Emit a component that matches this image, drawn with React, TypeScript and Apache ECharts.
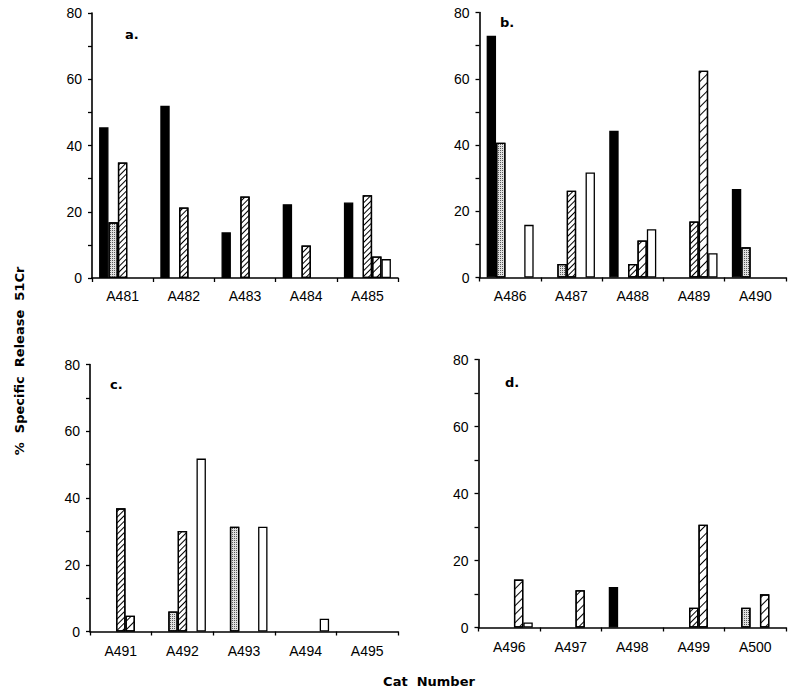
import React, { useEffect, useRef } from 'react';
import * as echarts from 'echarts';

// Categories (cat numbers) per panel
const catsA = ['A481', 'A482', 'A483', 'A484', 'A485'];
const catsB = ['A486', 'A487', 'A488', 'A489', 'A490'];
const catsC = ['A491', 'A492', 'A493', 'A494', 'A495'];
const catsD = ['A496', 'A497', 'A498', 'A499', 'A500'];

// Panel a values (% specific release)
const solidA = [45.5, 52.0, 13.8, 22.3, 22.8];
const stippleA = [16.8, null, null, null, null];
const denseA = [34.9, 21.3, 24.6, 9.8, 25.0];
const sparseA = [null, null, null, null, 6.5];
const openA = [null, null, null, null, 5.7];

// Panel b values
const solidB = [73.0, null, 44.3, null, 26.7];
const stippleB = [40.7, 4.1, null, null, 9.1];
const denseB = [null, 26.2, 4.1, 16.9, null];
const sparseB = [null, null, 11.2, 62.4, null];
const openB = [15.9, 31.7, 14.6, 7.3, null];

// Panel c values
const solidC = [null, null, null, null, null];
const stippleC = [null, 6.0, 31.4, null, null];
const denseC = [36.9, 30.1, null, null, null];
const sparseC = [4.7, null, null, null, null];
const openC = [null, 51.8, 31.4, 3.8, null];

// Panel d values
const solidD = [null, null, 12.1, null, null];
const stippleD = [null, null, null, null, 5.9];
const denseD = [null, null, null, 5.9, null];
const sparseD = [14.3, 11.1, null, 30.7, 9.9];
const openD = [1.5, null, null, null, null];

const yMin = 0;
const yMax = 80;
const yStep = 10;
const yLabelStep = 20;

const yTitle = '%  Specific  Release  51Cr';
const xTitle = 'Cat  Number';
const panelLabels = ['a.', 'b.', 'c.', 'd.'];

const panels = [
  { cats: catsA, series: [solidA, stippleA, denseA, sparseA, openA] },
  { cats: catsB, series: [solidB, stippleB, denseB, sparseB, openB] },
  { cats: catsC, series: [solidC, stippleC, denseC, sparseC, openC] },
  { cats: catsD, series: [solidD, stippleD, denseD, sparseD, openD] },
];

const grids = [
  { left: 92, top: 13, width: 306, height: 265 },
  { left: 479.5, top: 12.5, width: 306.5, height: 265 },
  { left: 90, top: 364.5, width: 308, height: 267 },
  { left: 478.5, top: 359.5, width: 307.5, height: 268 },
];

const labelPos = [
  { x: 125, y: 35 },
  { x: 500, y: 23 },
  { x: 110, y: 385 },
  { x: 505, y: 383 },
];

const fillStyles: any[] = [
  { color: '#000000' },
  {
    color: '#e0e0e0',
    decal: { symbol: 'rect', symbolSize: 1, color: '#5a5a5a', dashArrayX: [1, 1], dashArrayY: [1, 1], rotation: 0 },
  },
  {
    color: '#ffffff',
    decal: { symbol: 'rect', symbolSize: 1, color: '#000000', dashArrayX: [1, 0], dashArrayY: [0.9, 2.3], rotation: -Math.PI / 4 },
  },
  {
    color: '#ffffff',
    decal: { symbol: 'rect', symbolSize: 1, color: '#000000', dashArrayX: [1, 0], dashArrayY: [1, 5], rotation: -Math.PI / 4 },
  },
  { color: '#ffffff' },
];

const seriesNames = ['solid', 'stippled', 'dense hatch', 'sparse hatch', 'open'];

const FONT = 'Arial, Liberation Sans, sans-serif';
const BOLD_FONT = 'DejaVu Sans';

export default function App() {
  const ref = useRef<HTMLDivElement>(null);

  useEffect(() => {
    if (!ref.current) return;
    const chart = echarts.init(ref.current, null, { renderer: 'svg' });

    const xAxis = panels.map((p, i) => ({
      type: 'category',
      gridIndex: i,
      data: p.cats,
      boundaryGap: true,
      axisLine: { show: true, lineStyle: { color: '#000', width: 1.6 } },
      axisTick: { show: true, alignWithLabel: false, length: 4, lineStyle: { color: '#000', width: 1.3 } },
      axisLabel: {
        color: '#000',
        fontFamily: FONT,
        fontSize: 14,
        margin: i < 2 ? 11 : 12,
      },
      splitLine: { show: false },
    }));

    const yAxis = panels.map((_, i) => ({
      type: 'value',
      gridIndex: i,
      min: yMin,
      max: yMax,
      interval: yStep,
      axisLine: { show: true, lineStyle: { color: '#000', width: 1.6 } },
      axisTick: { show: true, length: 4, lineStyle: { color: '#000', width: 1.3 } },
      axisLabel: {
        color: '#000',
        fontFamily: FONT,
        fontSize: 14,
        margin: 10,
        formatter: (v: number) => (v % yLabelStep === 0 ? String(v) : ''),
      },
      splitLine: { show: false },
    }));

    const series: any[] = [];
    panels.forEach((p, i) => {
      p.series.forEach((vals, k) => {
        series.push({
          type: 'bar',
          name: seriesNames[k],
          xAxisIndex: i,
          yAxisIndex: i,
          data: vals.map((v) => (v === null ? '-' : v)),
          barWidth: 9.4,
          barGap: '0%',
          itemStyle: {
            ...fillStyles[k],
            borderColor: '#000',
            borderWidth: 1.3,
          },
          emphasis: { disabled: true },
        });
      });
    });

    const graphic: any[] = [
      ...panelLabels.map((t, i) => ({
        type: 'text',
        left: labelPos[i].x,
        top: labelPos[i].y - 7,
        style: { text: t, font: `bold 13px ${BOLD_FONT}`, fill: '#000' },
      })),
      {
        type: 'text',
        x: 19,
        y: 361,
        rotation: Math.PI / 2,
        style: {
          text: yTitle,
          font: `bold 13px ${BOLD_FONT}`,
          fill: '#000',
          align: 'center',
          verticalAlign: 'middle',
        },
      },
      {
        type: 'text',
        x: 429,
        y: 681,
        style: {
          text: xTitle,
          font: `bold 13px ${BOLD_FONT}`,
          fill: '#000',
          align: 'center',
          verticalAlign: 'middle',
        },
      },
    ];

    chart.setOption({
      animation: false,
      backgroundColor: '#ffffff',
      grid: grids.map((g) => ({ ...g, containLabel: false })),
      xAxis,
      yAxis,
      series,
      graphic,
    });

    return () => chart.dispose();
  }, []);

  return (
    <div
      ref={ref}
      style={{ position: 'fixed', left: 0, top: 0, width: 796, height: 692, background: '#fff' }}
    />
  );
}
